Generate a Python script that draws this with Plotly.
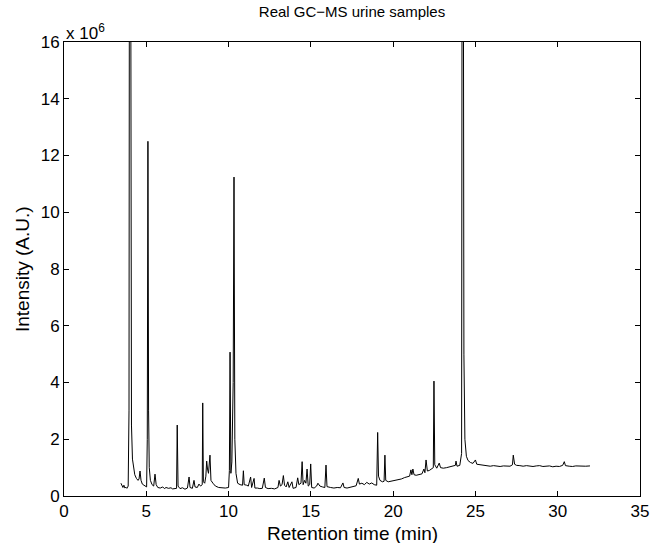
import plotly.graph_objects as go

# Retention time (min) and intensity (x 1e6 A.U.)
retention_time = [
    3.46, 3.52, 3.58, 3.64, 3.70, 3.76, 3.82, 3.90, 3.95, 4.00, 4.06, 4.10, 4.16, 4.22, 4.30, 4.40,
    4.50, 4.56, 4.62, 4.68, 4.76, 4.86, 4.96, 5.02, 5.06, 5.10, 5.14, 5.18, 5.25, 5.35, 5.45, 5.53,
    5.60, 5.70, 5.85, 6.00, 6.10, 6.20, 6.35, 6.50, 6.60, 6.75, 6.84, 6.88, 6.93, 7.05, 7.20, 7.35,
    7.50, 7.60, 7.66, 7.80, 7.90, 7.96, 8.10, 8.20, 8.30, 8.40, 8.43, 8.47, 8.55, 8.62, 8.67, 8.72,
    8.78, 8.87, 8.93, 9.05, 9.20, 9.40, 9.60, 9.80, 10.00, 10.05, 10.09, 10.14, 10.20, 10.28, 10.33,
    10.38, 10.45, 10.55, 10.70, 10.85, 10.90, 10.95, 11.10, 11.20, 11.34, 11.40, 11.55, 11.60, 11.75,
    11.90, 12.05, 12.17, 12.24, 12.40, 12.60, 12.80, 13.00, 13.07, 13.15, 13.25, 13.33, 13.40, 13.50,
    13.60, 13.68, 13.85, 13.92, 14.10, 14.20, 14.27, 14.40, 14.47, 14.53, 14.62, 14.70, 14.77, 14.84,
    14.93, 14.99, 15.05, 15.20, 15.35, 15.43, 15.55, 15.70, 15.85, 15.92, 15.98, 16.20, 16.40, 16.60,
    16.80, 16.95, 17.02, 17.20, 17.40, 17.60, 17.75, 17.88, 17.95, 18.10, 18.25, 18.40, 18.55, 18.70,
    18.85, 19.00, 19.06, 19.11, 19.20, 19.35, 19.45, 19.50, 19.55, 19.70, 19.90, 20.10, 20.30, 20.50,
    20.70, 20.90, 21.00, 21.08, 21.14, 21.20, 21.27, 21.40, 21.60, 21.75, 21.87, 21.93, 22.00, 22.08,
    22.20, 22.35, 22.44, 22.48, 22.53, 22.65, 22.80, 22.88, 23.05, 23.25, 23.45, 23.65, 23.78, 23.82,
    23.88, 24.05, 24.16, 24.22, 24.30, 24.36, 24.45, 24.55, 24.70, 24.85, 25.00, 25.08, 25.30, 25.50,
    25.70, 25.90, 26.10, 26.30, 26.50, 26.70, 26.90, 27.10, 27.25, 27.30, 27.38, 27.50, 27.70, 27.90,
    28.10, 28.30, 28.50, 28.70, 28.90, 29.10, 29.30, 29.50, 29.70, 29.90, 30.10, 30.30, 30.40, 30.47,
    30.70, 30.90, 31.10, 31.30, 31.50, 31.70, 31.96,
]
intensity_e6 = [
    0.45, 0.35, 0.30, 0.38, 0.28, 0.31, 0.27, 0.35, 3.00, 40.0, 6.00, 2.50, 1.30, 0.95, 0.75, 0.62,
    0.55, 0.60, 0.88, 0.55, 0.42, 0.38, 0.32, 0.32, 2.00, 12.5, 3.00, 1.00, 0.55, 0.40, 0.35, 0.77,
    0.40, 0.30, 0.28, 0.32, 0.26, 0.30, 0.27, 0.29, 0.25, 0.28, 0.27, 2.50, 0.35, 0.26, 0.29, 0.24,
    0.28, 0.67, 0.30, 0.27, 0.55, 0.32, 0.30, 0.42, 0.35, 0.40, 3.28, 0.50, 0.45, 0.70, 1.23, 0.95,
    0.80, 1.44, 0.55, 0.45, 0.35, 0.30, 0.29, 0.28, 0.30, 0.90, 5.07, 0.80, 1.20, 4.00, 11.24,
    2.00, 0.80, 0.45, 0.40, 0.38, 0.89, 0.40, 0.38, 0.35, 0.67, 0.30, 0.62, 0.28, 0.28,
    0.26, 0.27, 0.63, 0.30, 0.26, 0.27, 0.25, 0.30, 0.55, 0.35, 0.40, 0.72, 0.38, 0.32,
    0.50, 0.30, 0.50, 0.27, 0.30, 0.64, 0.40, 0.45, 1.21, 0.40, 0.55, 0.45, 0.95, 0.35,
    0.40, 1.13, 0.30, 0.28, 0.35, 0.45, 0.35, 0.32, 0.30, 1.09, 0.33, 0.30, 0.28, 0.30,
    0.29, 0.46, 0.30, 0.28, 0.30, 0.32, 0.36, 0.62, 0.42, 0.45, 0.40, 0.48, 0.42, 0.46,
    0.40, 0.38, 2.24, 0.70, 0.55, 0.50, 0.52, 1.44, 0.55, 0.50, 0.52, 0.55, 0.58, 0.60,
    0.65, 0.68, 0.70, 0.92, 0.75, 0.95, 0.75, 0.73, 0.75, 0.78, 0.95, 0.82, 1.27, 0.88,
    0.90, 0.95, 1.00, 4.05, 1.10, 0.98, 1.16, 1.00, 0.98, 1.00, 1.02, 1.05, 1.08, 1.23,
    1.05, 1.08, 1.50, 40.0, 5.00, 2.00, 1.40, 1.25, 1.18, 1.15, 1.27, 1.12, 1.10, 1.08,
    1.06, 1.05, 1.07, 1.05, 1.04, 1.06, 1.05, 1.05, 1.10, 1.44, 1.12, 1.08, 1.07, 1.05,
    1.07, 1.05, 1.04, 1.06, 1.07, 1.04, 1.05, 1.06, 1.03, 1.05, 1.04, 1.08, 1.21, 1.07,
    1.05, 1.04, 1.06, 1.05, 1.04, 1.05, 1.06,
]

x_ticks = [0, 5, 10, 15, 20, 25, 30, 35]
y_ticks = [0, 2, 4, 6, 8, 10, 12, 14, 16]

FONT = "Liberation Sans, Arial, Helvetica, sans-serif"
W, H = 652, 543
L, R, T, B = 64, 12, 42, 47

fig = go.Figure()
fig.add_trace(go.Scatter(
    x=retention_time, y=intensity_e6, mode="lines",
    line=dict(color="black", width=1), hoverinfo="skip", showlegend=False,
))

axis_common = dict(
    showline=True, linecolor="black", linewidth=1, mirror="ticks",
    ticks="inside", ticklen=5, tickcolor="black", tickwidth=1,
    showgrid=False, zeroline=False, automargin=False,
    tickfont=dict(family=FONT, size=17, color="black"),
)

fig.update_layout(
    width=W, height=H,
    margin=dict(l=L, r=R, t=T, b=B),
    paper_bgcolor="white", plot_bgcolor="white",
    font=dict(family=FONT, size=17, color="black"),
    title=dict(text="Real GC\u2212MS urine samples", x=(L + W - R) / 2 / W, xanchor="center",
               y=1 - 12 / H, yanchor="middle", font=dict(size=15, family=FONT)),
    xaxis=dict(range=[0, 35], tickvals=x_ticks, **axis_common),
    yaxis=dict(range=[0, 16], tickvals=y_ticks, **axis_common),
    annotations=[
        dict(text="x 10<sup>6</sup>", xref="paper", yref="paper", x=0, y=1,
             xanchor="left", yanchor="bottom", showarrow=False, yshift=-3,
             font=dict(family=FONT, size=17, color="black")),
        dict(text="Retention time (min)", xref="paper", yref="paper", x=0.5, y=0,
             xanchor="center", yanchor="middle", showarrow=False, yshift=-37,
             font=dict(family=FONT, size=19, color="black")),
        dict(text="Intensity (A.U.)", xref="paper", yref="paper", x=0, y=0.5,
             xanchor="center", yanchor="middle", showarrow=False, xshift=-42,
             textangle=-90, font=dict(family=FONT, size=19, color="black")),
    ],
)

fig.write_html("out.html", config={"displayModeBar": False},
               post_script="document.body.style.margin='0';")
